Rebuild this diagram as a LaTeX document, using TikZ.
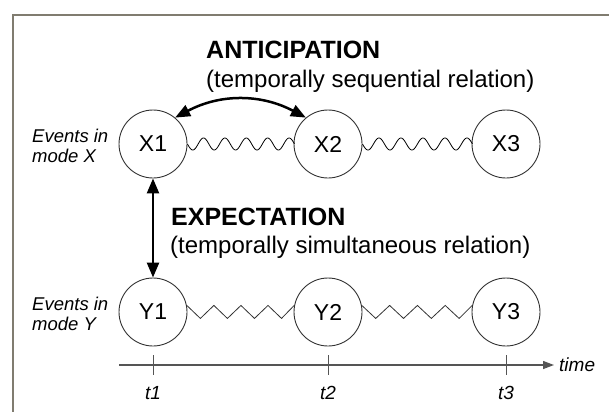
\documentclass[tikz,border=0pt]{standalone}
\usepackage{fontspec}
\setmainfont{Liberation Sans}
\usetikzlibrary{arrows.meta}
\definecolor{framec}{RGB}{128,124,112}
\definecolor{axisc}{RGB}{85,85,85}
\definecolor{circc}{RGB}{50,50,50}
\begin{document}
\begin{tikzpicture}[x=1pt,y=-1pt,
  ev/.style={circle,draw=circc,line width=0.9pt,minimum size=68pt,inner sep=0pt,
             font=\fontsize{23}{26}\selectfont},
  wave/.style={draw=black,line width=0.8pt},
  zz/.style={draw=black!80,line width=0.8pt,line join=miter},
  rel/.style={line width=2.5pt,{Triangle[length=15pt,width=12pt]}-{Triangle[length=15pt,width=12pt]}},
  big/.style={inner sep=0pt,anchor=base west,font=\bfseries\fontsize{25}{30}\selectfont},
  sub/.style={inner sep=0pt,anchor=base west,font=\fontsize{24}{28}\selectfont},
  side/.style={inner sep=0pt,anchor=base west,font=\itshape\fontsize{18.5}{20}\selectfont},
  tlab/.style={inner sep=0pt,font=\itshape\fontsize{19}{20}\selectfont},
  tick/.style={axisc,line width=1pt}]
\useasboundingbox (0,0) rectangle (609,412);
\draw[framec,line width=2pt] (609,15) -- (13,15) -- (13,412);

% events
\node[ev] (X1) at (153,144) {X1};
\node[ev] (X2) at (328,144) {X2};
\node[ev] (X3) at (506,144) {X3};
\node[ev] (Y1) at (153,312) {Y1};
\node[ev] (Y2) at (328,312) {Y2};
\node[ev] (Y3) at (506,312) {Y3};

% wavy links (5 periods each)
\draw[wave,shift={(X1.east)}] plot[domain=0:107,samples=160,smooth] (\x,{6*sin(16.8224*\x)});
\draw[wave,shift={(X2.east)}] plot[domain=0:110,samples=160,smooth] (\x,{6*sin(16.3636*\x)});

% zigzag links (4 valleys each, starting and ending high)
\draw[zz] (Y1.11) \foreach \i in {1,2,3} { -- ++(13.53,13) -- ++(13.53,-13)}
  -- ++(13.53,13) -- (Y2.169);
\draw[zz] (Y2.11) \foreach \i in {1,2,3} { -- ++(13.9,13) -- ++(13.9,-13)}
  -- ++(13.9,13) -- (Y3.169);

% relations
\draw[rel] (X1.50) to[bend left=28] (X2.130);
\draw[rel] (X1.south) -- (Y1.north);

\node[big] (antl) at (206,58) {ANTICIPATION};
\node[sub] (antd) at (206,87) {(temporally sequential relation)};
\node[big] (expl) at (171,225) {EXPECTATION};
\node[sub] (expd) at (170,253) {(temporally simultaneous relation)};

% side labels
\node[side] (ex1) at (32,142) {Events in};
\node[side] (ex2) at (32,162) {mode X};
\node[side] (ey1) at (32,310) {Events in};
\node[side] (ey2) at (32,330) {mode Y};

% time axis
\coordinate (axs) at (119,365);
\coordinate (axe) at (554,365);
\draw[axisc,line width=1.3pt,-{Triangle[length=11pt,width=8pt]}] (axs) -- (axe);
\node[tlab,anchor=west] (time) at (559,365) {time};
\foreach \n/\x in {1/153,2/328,3/506}{
  \coordinate (ta\n) at (\x,355);
  \coordinate (tb\n) at (\x,375);
  \draw[tick] (ta\n) -- (tb\n);
  \node[tlab] (tl\n) at (\x,393) {t\n};
}
\end{tikzpicture}
\end{document}
